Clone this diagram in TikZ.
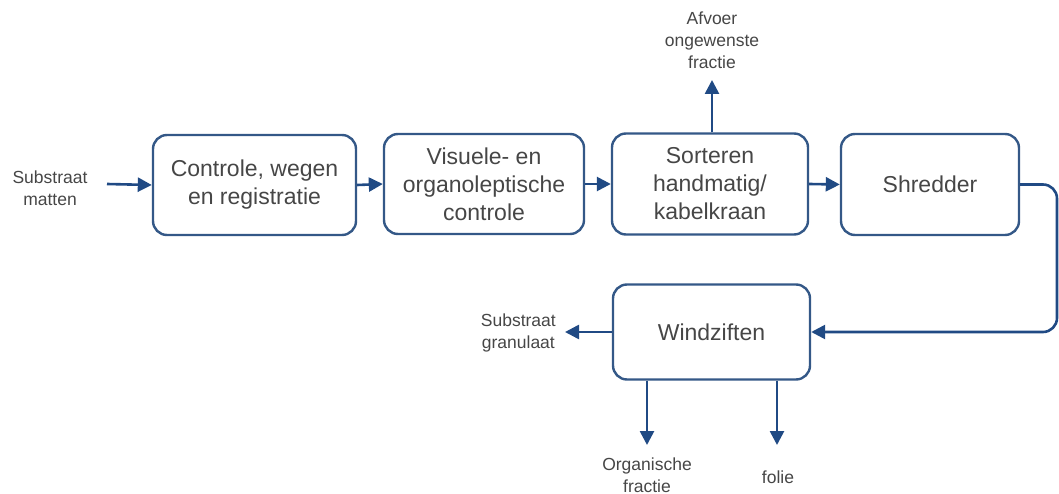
\documentclass[tikz,border=0pt]{standalone}
\usepackage{fontspec}
\setmainfont{Liberation Sans}
\usetikzlibrary{arrows.meta}
\definecolor{boxblue}{RGB}{52,88,135}
\definecolor{arrblue}{RGB}{32,74,132}
\definecolor{txtgray}{RGB}{70,70,70}
\begin{document}
\begin{tikzpicture}[x=1pt,y=-1pt,
  proc/.style={draw=boxblue, line width=2.4pt, rounded corners=14pt, align=center,
    text=txtgray, font=\fontsize{23}{28}\selectfont, inner sep=0pt},
  lbl/.style={align=center, text=txtgray, font=\fontsize{17.5}{22}\selectfont, inner sep=0pt},
  flow/.style={draw=arrblue, line width=2.6pt, -{Triangle[length=14pt,width=14pt]}}]
\useasboundingbox (0,0) rectangle (1059,494);
\node[proc, minimum width=203pt, minimum height=100pt] (b1) at (254.5,185) {Controle, wegen\\en registratie};
\node[proc, minimum width=200pt, minimum height=100pt] (b2) at (484,184) {Visuele- en\\organoleptische\\controle};
\node[proc, minimum width=196pt, minimum height=101pt] (b3) at (710,184) {Sorteren\\handmatig/\\kabelkraan};
\node[proc, minimum width=178pt, minimum height=101pt] (b4) at (930,184.5) {Shredder};
\node[proc, minimum width=197pt, minimum height=95pt] (b5) at (711.5,332) {Windziften};
\node[lbl] (lin) at (50,188) {Substraat\\matten};
\node[lbl] (lafv) at (712,40) {Afvoer\\ongewenste\\fractie};
\node[lbl, anchor=east] (lgran) at (556,333) {Substraat\\granulaat};
\node[lbl] (lorg) at (647,475) {Organische\\fractie};
\node[lbl] (lfol) at (778,477) {folie};
\coordinate (cin) at (107,184);
\coordinate (cup) at (712,80);
\coordinate (cgran) at (565,332);
\coordinate (corg) at (647,445);
\coordinate (cfol) at (777,445);
\coordinate (cr1) at (1057,184.5);
\coordinate (cr2) at (1057,332);
\draw[flow] (cin) -- (b1.west);
\draw[flow] (b1.east) -- (b2.west);
\draw[flow] (b2.east) -- (b3.west);
\draw[flow] (b3.east) -- (b4.west);
\draw[flow] (b3.north -| cup) -- (cup);
\draw[flow, rounded corners=14pt] (b4.east) -- (cr1) -- (cr2) -- (b5.east);
\draw[flow] (b5.west) -- (cgran);
\draw[flow] (b5.south -| corg) -- (corg);
\draw[flow] (b5.south -| cfol) -- (cfol);
\end{tikzpicture}
\end{document}
